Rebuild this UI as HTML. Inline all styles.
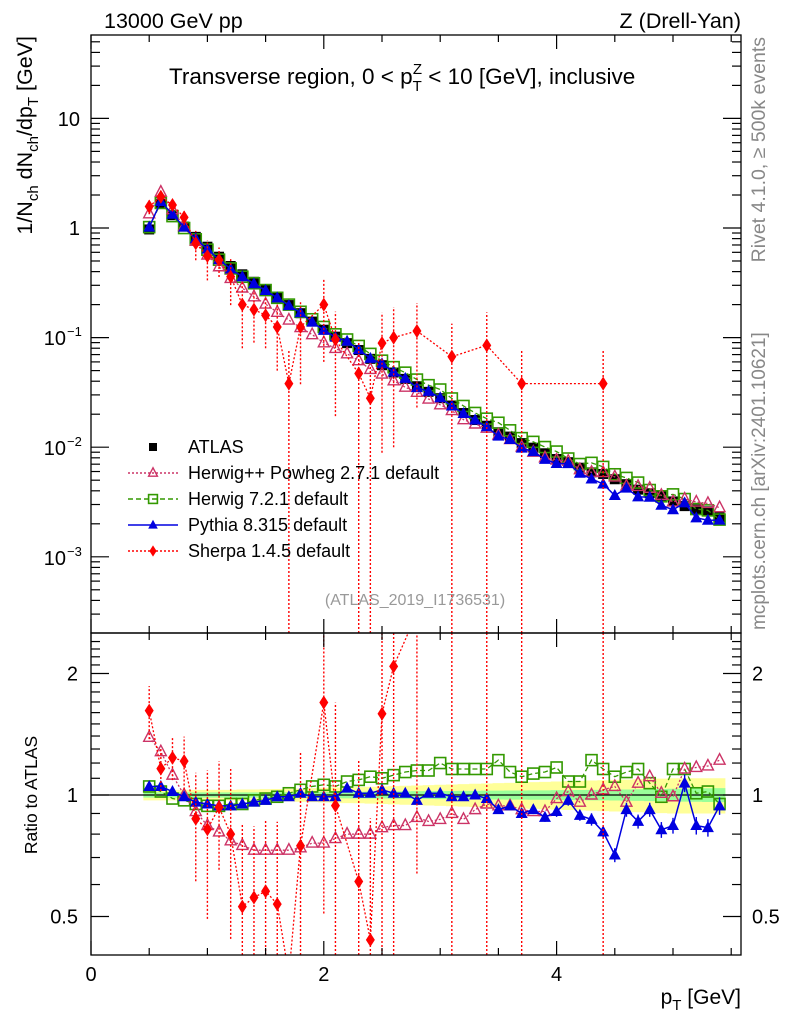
<!DOCTYPE html>
<html><head><meta charset="utf-8"><style>
html,body{margin:0;padding:0;background:#fff;overflow:hidden;width:786px;height:1024px;}
svg{display:block;font-family:"Liberation Sans",sans-serif;}
</style></head><body>
<svg id="c" width="786" height="1024" viewBox="0 0 786 1024" xmlns="http://www.w3.org/2000/svg"></svg>
<script>
const pT=[];
const atlas=[0.97,1.66,1.31,1.03,0.83,0.675,0.547,0.45,0.378,0.323,0.277,0.233,0.198,0.167,0.14,0.118,0.102,0.089,0.077,0.064,0.056,0.048,0.042,0.036,0.032,0.028,
0.024,0.0205,0.0177,0.0157,0.0137,0.0125,0.0109,0.0099,0.0088,0.0078,0.0073,0.0065,0.0059,0.0057,0.0051,0.0046,0.0041,0.0038,0.0036,0.0032,0.0029,0.0027,0.0026,0.0023];
const statErr=[0.015,0.015,0.015,0.015,0.015,0.015,0.015,0.015,0.015,0.015,0.015,0.015,0.015,0.017,0.017,0.018,0.018,0.019,0.019,0.02,0.02,0.021,0.021,0.022,0.022,0.023,0.023,0.024,0.024,0.025,0.025,0.026,0.026,0.027,0.027,0.028,0.028,0.029,0.03,0.03,0.031,0.032,0.033,0.034,0.035,0.036,0.037,0.038,0.039,0.04];
const totErr=[0.03,0.03,0.03,0.03,0.03,0.03,0.03,0.03,0.032,0.032,0.034,0.035,0.036,0.038,0.04,0.042,0.044,0.045,0.046,0.048,0.05,0.052,0.054,0.056,0.058,0.06,0.062,0.064,0.066,0.068,0.07,0.072,0.074,0.076,0.078,0.08,0.082,0.084,0.086,0.088,0.09,0.092,0.094,0.096,0.098,0.1,0.1,0.1,0.1,0.1];
const herwigPP=[1.39,1.28,1.12,1.00,0.91,0.84,0.81,0.77,0.75,0.73,0.73,0.73,0.73,0.74,0.76,0.76,0.78,0.80,0.80,0.80,0.83,0.84,0.84,0.88,0.86,0.87,0.90,0.87,0.92,0.95,0.94,0.94,0.92,0.91,0.91,0.98,1.02,0.96,1.00,1.03,1.05,0.96,1.07,1.11,1.01,0.99,1.16,1.17,1.18,1.22];
const herwig7=[1.05,1.02,0.98,0.97,0.95,0.94,0.94,0.95,0.95,0.97,0.98,0.99,1.01,1.03,1.05,1.06,1.05,1.08,1.09,1.11,1.10,1.12,1.14,1.15,1.15,1.20,1.16,1.16,1.16,1.16,1.22,1.14,1.11,1.13,1.14,1.17,1.08,1.08,1.22,1.16,1.11,1.14,1.16,1.07,0.99,1.16,1.16,1.01,1.02,0.95];
const pythia=[1.05,1.05,1.02,0.99,0.96,0.95,0.94,0.94,0.95,0.96,0.97,0.99,0.99,1.01,0.99,0.99,0.99,1.04,1.01,1.01,1.03,1.01,1.01,0.97,1.01,1.01,0.99,0.99,1.00,0.98,0.92,0.94,0.90,0.92,0.88,0.91,0.97,0.89,0.87,0.81,0.71,0.92,0.86,0.92,0.82,0.84,1.07,0.84,0.83,0.94];
const pythiaErr=[0.01,0.01,0.01,0.01,0.01,0.01,0.01,0.01,0.01,0.01,0.01,0.01,0.01,0.01,0.01,0.01,0.01,0.01,0.01,0.01,0.01,0.01,0.01,0.01,0.01,0.01,0.015,0.015,0.015,0.015,0.02,0.02,0.025,0.025,0.025,0.03,0.03,0.03,0.035,0.035,0.04,0.04,0.04,0.04,0.045,0.045,0.05,0.05,0.05,0.05];
const sherpaX=[0.5,0.6,0.7,0.8,0.9,1.0,1.1,1.2,1.3,1.4,1.5,1.6,1.7,1.8,2.0,2.1,2.3,2.4,2.5,2.6,2.8,3.1,3.4,3.7,4.4];
const sherpaY=[1.57,1.93,1.62,1.25,0.725,0.555,0.51,0.36,0.20,0.18,0.16,0.125,0.038,0.125,0.20,0.096,0.047,0.028,0.089,0.10,0.115,0.067,0.085,0.038,0.038];
const sherpaErr=[0.15,0.12,0.12,0.15,0.3,0.4,0.3,0.45,0.6,0.5,0.5,0.6,1.0,0.7,0.7,0.8,1.0,1.0,0.9,0.9,0.8,1.0,1.0,1.0,1.0];
const xTicks=[0,2,4];
for(let i=0;i<atlas.length;i++) pT.push(+(0.5+0.1*i).toFixed(1));

const NS="http://www.w3.org/2000/svg";
const svg=document.getElementById('c');
const L=91,R=741,T=35,MB=633,RB=955;
const X=v=>L+v*116.4;
const Y=v=>228-Math.log10(v)*109.6;
const RY=v=>795-Math.log2(v)*121.5;
function el(tag,attrs,parent){const e=document.createElementNS(NS,tag);for(const k in attrs)e.setAttribute(k,attrs[k]);(parent||svg).appendChild(e);return e;}
function txt(s,x,y,o,parent){const e=el('text',Object.assign({x:x,y:y,'font-size':20,fill:'#000'},o||{}),parent);e.textContent=s;return e;}

const defs=el('defs',{});
const cp1=el('clipPath',{id:'cm'},defs);el('rect',{x:L,y:T,width:R-L,height:MB-T},cp1);
const cp2=el('clipPath',{id:'cr'},defs);el('rect',{x:L,y:MB,width:R-L,height:RB-MB},cp2);
const gm=el('g',{'clip-path':'url(#cm)'});
const gr=el('g',{'clip-path':'url(#cr)'});

{let up=[],dn=[],up2=[],dn2=[];
for(let i=0;i<pT.length;i++){const x0=X(pT[i]-0.05),x1=X(pT[i]+0.05);
up.push(`${x0},${RY(1+totErr[i])} ${x1},${RY(1+totErr[i])}`);dn.unshift(`${x1},${RY(1-totErr[i])} ${x0},${RY(1-totErr[i])}`);
up2.push(`${x0},${RY(1+statErr[i])} ${x1},${RY(1+statErr[i])}`);dn2.unshift(`${x1},${RY(1-statErr[i])} ${x0},${RY(1-statErr[i])}`);}
const b1=el('polygon',{points:up.concat(dn).join(' '),fill:'#ffff99'},gr);
const b2=el('polygon',{points:up2.concat(dn2).join(' '),fill:'#99ff99'},gr);}
const ln1=el('line',{x1:L,x2:R,y1:RY(1),y2:RY(1),stroke:'#000','stroke-width':1.3},gr);


function marker(g,type,x,y,col,s){s=s||1;
  if(type==='sq') return el('rect',{x:x-5*s,y:y-5*s,width:10*s,height:10*s,fill:'#000'},g);
  if(type==='osq') return el('rect',{x:x-5.5*s,y:y-5.5*s,width:11*s,height:11*s,fill:'none',stroke:col,'stroke-width':1.6},g);
  if(type==='otri') return el('polygon',{points:`${x},${y-6.5*s} ${x-5.5*s},${y+4*s} ${x+5.5*s},${y+4*s}`,fill:'none',stroke:col,'stroke-width':1.4},g);
  if(type==='tri') return el('polygon',{points:`${x},${y-6.5*s} ${x-6*s},${y+4.5*s} ${x+6*s},${y+4.5*s}`,fill:col},g);
  if(type==='dia') return el('polygon',{points:`${x},${y-7*s} ${x-4.5*s},${y} ${x},${y+7*s} ${x+4.5*s},${y}`,fill:col},g);
}
function series(name,g,xs,ys,type,col,dash,width,yf,errs,ymin,ymax){
  const sg=el('g',{},g);
  if(errs){for(let i=0;i<xs.length;i++){const lo=ys[i]*(1-errs[i]),hi=ys[i]*(1+errs[i]);
    const ya=Math.min(lo>0?yf(lo):ymax,ymax),yb=Math.max(yf(hi),ymin);
    el('line',{x1:X(xs[i]),x2:X(xs[i]),y1:ya,y2:yb,stroke:col,'stroke-width':1.4,'stroke-dasharray':dash||'none'},sg);}}
  el('polyline',{points:xs.map((x,i)=>X(x)+','+Math.min(Math.max(yf(ys[i]),ymin-20),ymax+20)).join(' '),fill:'none',stroke:col,'stroke-width':width,'stroke-dasharray':dash||'none'},sg);
  for(let i=0;i<xs.length;i++){const y=yf(ys[i]);if(y<ymin-10||y>ymax+10)continue;marker(sg,type,X(xs[i]),y,col);}
}
const hpp=atlas.map((a,i)=>a*herwigPP[i]);
const h7=atlas.map((a,i)=>a*herwig7[i]);
const py=atlas.map((a,i)=>a*pythia[i]);
const shR=sherpaX.map((x,i)=>sherpaY[i]/atlas[Math.round((x-0.5)*10)]);

const ag=el('g',{},gm);
pT.forEach((x,i)=>marker(ag,'sq',X(x),Y(atlas[i])));
series('herwig7-main',gm,pT,h7,'osq','#339900','5,3',1.3,Y,null,T,MB);
series('herwigpp-main',gm,pT,hpp,'otri','#cc3366','2,2',1.3,Y,null,T,MB);
series('pythia-main',gm,pT,py,'tri','#0000e0',null,1.5,Y,null,T,MB);
series('sherpa-main',gm,sherpaX,sherpaY,'dia','#ff0000','2,2',1.3,Y,sherpaErr,T,MB);
series('herwig7-ratio',gr,pT,herwig7,'osq','#339900','5,3',1.3,RY,null,MB,RB);
series('herwigpp-ratio',gr,pT,herwigPP,'otri','#cc3366','2,2',1.3,RY,null,MB,RB);
series('pythia-ratio',gr,pT,pythia,'tri','#0000e0',null,1.5,RY,pythiaErr,MB,RB);
series('sherpa-ratio',gr,sherpaX,shR,'dia','#ff0000','2,2',1.3,RY,sherpaErr,MB,RB);

const f1=el('rect',{x:L,y:T,width:R-L,height:MB-T,fill:'none',stroke:'#000','stroke-width':1.3});
const f2=el('rect',{x:L,y:MB,width:R-L,height:RB-MB,fill:'none',stroke:'#000','stroke-width':1.3});

const xt=el('g',{stroke:'#000','stroke-width':1.2});
for(let v=0;v<=5.6;v+=0.5){const big=Math.abs(v%2)<1e-6;const x=X(v);const h=big?14:7;
 [[T,1],[MB,-1],[MB,1],[RB,-1]].forEach(([y0,d])=>el('line',{x1:x,x2:x,y1:y0,y2:y0+d*h},xt));}
const xl=el('g',{});
xTicks.forEach(v=>txt(String(v),X(v),981,{'text-anchor':'middle'},xl));
const yt=el('g',{stroke:'#000','stroke-width':1.2});
for(let e=-4;e<=1;e++)for(let m=1;m<=9;m++){const v=m*Math.pow(10,e);const y=Y(v);if(y<T||y>MB)continue;const h=m===1?18:9;
 el('line',{x1:L,x2:L+h,y1:y,y2:y},yt);el('line',{x1:R,x2:R-h,y1:y,y2:y},yt);}
const yl=el('g',{});
txt('10',80,126,{'text-anchor':'end'},yl);txt('1',80,235,{'text-anchor':'end'},yl);
[[-1,345],[-2,455],[-3,565]].forEach(([e,y])=>{txt('10',66,y,{'text-anchor':'end'},yl);const s=el('text',{x:67,y:y-9,'font-size':13},yl);s.textContent='−'+(-e);});
const rt=el('g',{stroke:'#000','stroke-width':1.2});
[0.4,0.5,0.6,0.7,0.8,0.9,1,1.1,1.2,1.3,1.4,1.5,1.6,1.7,1.8,1.9,2,2.1,2.2,2.3,2.4].forEach(v=>{const y=RY(v);if(y<MB||y>RB)return;const big=(v===0.5||v===1||v===2);const h=big?18:9;
 el('line',{x1:L,x2:L+h,y1:y,y2:y},rt);el('line',{x1:R,x2:R-h,y1:y,y2:y},rt);});
const rl=el('g',{});
[['2',2],['1',1],['0.5',0.5]].forEach(([s,v])=>{txt(s,78,RY(v)+7,{'text-anchor':'end'},rl);txt(s,752,RY(v)+7,{},rl);});

let t;
t=txt('13000 GeV pp',104,28,{'font-size':21.5});
t=txt('Z (Drell-Yan)',741,28,{'text-anchor':'end','font-size':21.5});
t=el('text',{x:169,y:84,'font-size':22.5});t.innerHTML='Transverse region, 0 &lt; p<tspan font-size="15" dy="7">T</tspan><tspan font-size="15" dx="-9" dy="-17">Z</tspan><tspan dy="10"> &lt; 10 [GeV], inclusive</tspan>';

t=el('text',{transform:'translate(32,36) rotate(-90)','font-size':21.5,'text-anchor':'end'});
t.innerHTML='1/N<tspan font-size="15" dy="6">ch</tspan><tspan dy="-6"> dN</tspan><tspan font-size="15" dy="6">ch</tspan><tspan dy="-6">/dp</tspan><tspan font-size="15" dy="6">T</tspan><tspan dy="-6"> [GeV]</tspan>';

t=el('text',{transform:'translate(37,795) rotate(-90)','font-size':17.5,'text-anchor':'middle'});t.textContent='Ratio to ATLAS';

t=el('text',{x:741,y:1004,'font-size':21,'text-anchor':'end'});t.innerHTML='p<tspan font-size="15" dy="6">T</tspan><tspan dy="-6"> [GeV]</tspan>';

t=el('text',{transform:'translate(765,37) rotate(-90)','font-size':19.5,fill:'#888','text-anchor':'end'});t.textContent='Rivet 4.1.0, ≥ 500k events';

t=el('text',{transform:'translate(765,630) rotate(-90)','font-size':19,fill:'#888','text-anchor':'start'});t.textContent='mcplots.cern.ch [arXiv:2401.10621]';

t=el('text',{x:415,y:605,'font-size':16,fill:'#999','text-anchor':'middle'});t.textContent='(ATLAS_2019_I1736531)';


const lg=el('g',{});
const leg=[['ATLAS','sq','#000',null],['Herwig++ Powheg 2.7.1 default','otri','#cc3366','2,2'],['Herwig 7.2.1 default','osq','#339900','5,3'],['Pythia 8.315 default','tri','#0000e0',null],['Sherpa 1.4.5 default','dia','#ff0000','2,2']];
leg.forEach((e,i)=>{const y=447+i*26;const g=el('g',{},lg);
 if(i>0) el('line',{x1:128,x2:178,y1:y,y2:y,stroke:e[2],'stroke-width':1.4,'stroke-dasharray':e[3]||'none'},g);
 marker(g,e[1],153,y,e[2],0.8);txt(e[0],188,y+6,{'font-size':18},g);});
</script>
</body></html>
